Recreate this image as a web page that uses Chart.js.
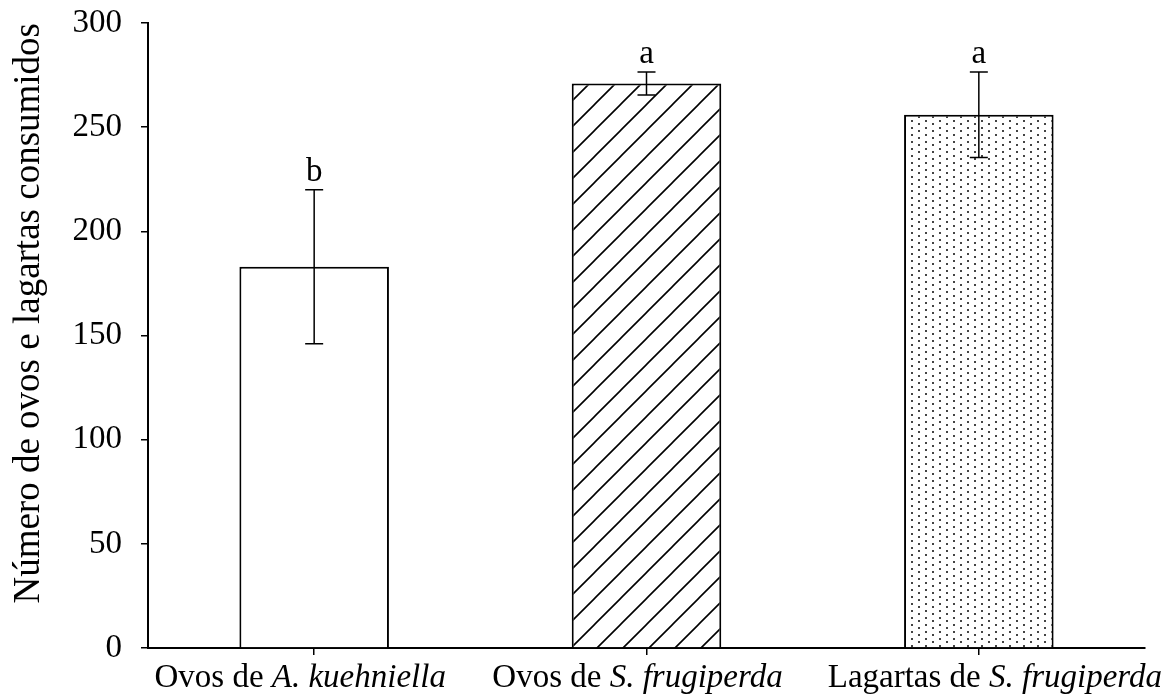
<!DOCTYPE html>
<html>
<head>
<meta charset="utf-8">
<script src="https://cdn.jsdelivr.net/npm/chart.js@4"></script>
<style>
  html, body { margin: 0; padding: 0; background: #fff; }
  #wrap { width: 1163px; height: 697px; position: relative; }
</style>
</head>
<body>
<div id="wrap"><canvas id="chart"></canvas></div>
<script>
// Category labels: plain prefix + italic species name
const labelPrefix = ['Ovos de ', 'Ovos de ', 'Lagartas de '];
const labelSpecies = ['A. kuehniella', 'S. frugiperda', 'S. frugiperda'];
const categories = labelPrefix.map((p, i) => p + labelSpecies[i]);

// Mean number consumed and its error
const consumed = [183, 271, 256];
const errorBar = [37, 5.5, 20.5];

// Letters from the mean comparison test
const groupLetters = ['b', 'a', 'a'];

// Y axis ticks
const yTicks = [0, 50, 100, 150, 200, 250, 300];

const SERIF = '"Liberation Serif", "Times New Roman", serif';
// horizontal nudge of each category label, in px
const LABEL_NUDGE = [-14, -9, 16];
const scratch = document.createElement('canvas').getContext('2d');

function hatchPattern() {
  const s = 26;
  const c = document.createElement('canvas');
  c.width = s; c.height = s;
  const g = c.getContext('2d');
  g.fillStyle = '#fff';
  g.fillRect(0, 0, s, s);
  g.strokeStyle = '#000';
  g.lineWidth = 1.6;
  g.beginPath();
  g.moveTo(-2, s + 2); g.lineTo(s + 2, -2);
  g.moveTo(-2, 2); g.lineTo(2, -2);
  g.moveTo(s - 2, s + 2); g.lineTo(s + 2, s - 2);
  g.stroke();
  const p = scratch.createPattern(c, 'repeat');
  p.setTransform(new DOMMatrix().translate(23, 0));
  return p;
}

function dotPattern() {
  const c = document.createElement('canvas');
  c.width = 14; c.height = 7;
  const g = c.getContext('2d');
  g.fillStyle = '#fff';
  g.fillRect(0, 0, 14, 7);
  g.fillStyle = '#444';
  g.fillRect(1, 1, 2, 2);
  g.fillRect(8, 4, 2, 2);
  return scratch.createPattern(c, 'repeat');
}

// Error bars, significance letters and mixed-style category labels
const annotations = {
  id: 'annotations',
  afterDatasetsDraw(chart) {
    const { ctx, scales: { y } } = chart;
    const bars = chart.getDatasetMeta(0).data;
    ctx.save();
    ctx.strokeStyle = '#000';
    ctx.lineWidth = 1.5;
    ctx.fillStyle = '#000';
    ctx.font = '33px ' + SERIF;
    ctx.textAlign = 'center';
    ctx.textBaseline = 'alphabetic';
    const cap = 9;
    bars.forEach((bar, i) => {
      const x = bar.x;
      const hi = y.getPixelForValue(consumed[i] + errorBar[i]);
      const lo = y.getPixelForValue(consumed[i] - errorBar[i]);
      ctx.beginPath();
      ctx.moveTo(x, hi); ctx.lineTo(x, lo);
      ctx.moveTo(x - cap, hi); ctx.lineTo(x + cap, hi);
      ctx.moveTo(x - cap, lo); ctx.lineTo(x + cap, lo);
      ctx.stroke();
      ctx.fillText(groupLetters[i], x, hi - 9);
    });
    ctx.restore();
  },
  afterDraw(chart) {
    const { ctx, scales: { x } } = chart;
    ctx.save();
    ctx.fillStyle = '#000';
    ctx.textAlign = 'left';
    ctx.textBaseline = 'alphabetic';
    const size = 33;
    const baseY = x.top + 39;
    categories.forEach((_, i) => {
      const cx = x.getPixelForValue(i) + LABEL_NUDGE[i];
      ctx.font = size + 'px ' + SERIF;
      const w1 = ctx.measureText(labelPrefix[i]).width;
      ctx.font = 'italic ' + size + 'px ' + SERIF;
      const w2 = ctx.measureText(labelSpecies[i]).width;
      const start = cx - (w1 + w2) / 2;
      ctx.font = size + 'px ' + SERIF;
      ctx.fillText(labelPrefix[i], start, baseY);
      ctx.font = 'italic ' + size + 'px ' + SERIF;
      ctx.fillText(labelSpecies[i], start + w1, baseY);
    });
    ctx.restore();
  }
};

new Chart(document.getElementById('chart'), {
  type: 'bar',
  data: {
    labels: categories,
    datasets: [{
      data: consumed,
      backgroundColor: ['#ffffff', hatchPattern(), dotPattern()],
      borderColor: '#000',
      borderWidth: 2,
      barPercentage: 0.45,
      categoryPercentage: 1
    }]
  },
  options: {
    responsive: true,
    maintainAspectRatio: false,
    animation: false,
    layout: { padding: { top: 23, right: 18, bottom: 0, left: 0 } },
    plugins: { legend: { display: false }, tooltip: { enabled: false } },
    scales: {
      x: {
        grid: {
          display: true, drawOnChartArea: false, drawTicks: true,
          tickLength: 7, offset: false, color: '#000', lineWidth: 1.5
        },
        border: { display: true, color: '#000', width: 2 },
        ticks: { display: false },
        afterFit(scale) { scale.height = 49; }
      },
      y: {
        min: yTicks[0],
        max: yTicks[yTicks.length - 1],
        ticks: {
          stepSize: yTicks[1] - yTicks[0],
          color: '#000',
          padding: 19,
          font: { family: SERIF, size: 33 }
        },
        grid: {
          display: true, drawOnChartArea: false, drawTicks: true,
          tickLength: 7, color: '#000', lineWidth: 1.5
        },
        border: { display: true, color: '#000', width: 2 },
        title: {
          display: true,
          text: 'Número de ovos e lagartas consumidos',
          color: '#000',
          align: 'end',
          padding: { top: 11, bottom: 0 },
          font: { family: SERIF, size: 37, lineHeight: 1 }
        },
        afterFit(scale) {
          scale.width = 148;
          scale.paddingTop = 0;
          scale.paddingBottom = 0;
        }
      }
    }
  },
  plugins: [annotations]
});
</script>
</body>
</html>
